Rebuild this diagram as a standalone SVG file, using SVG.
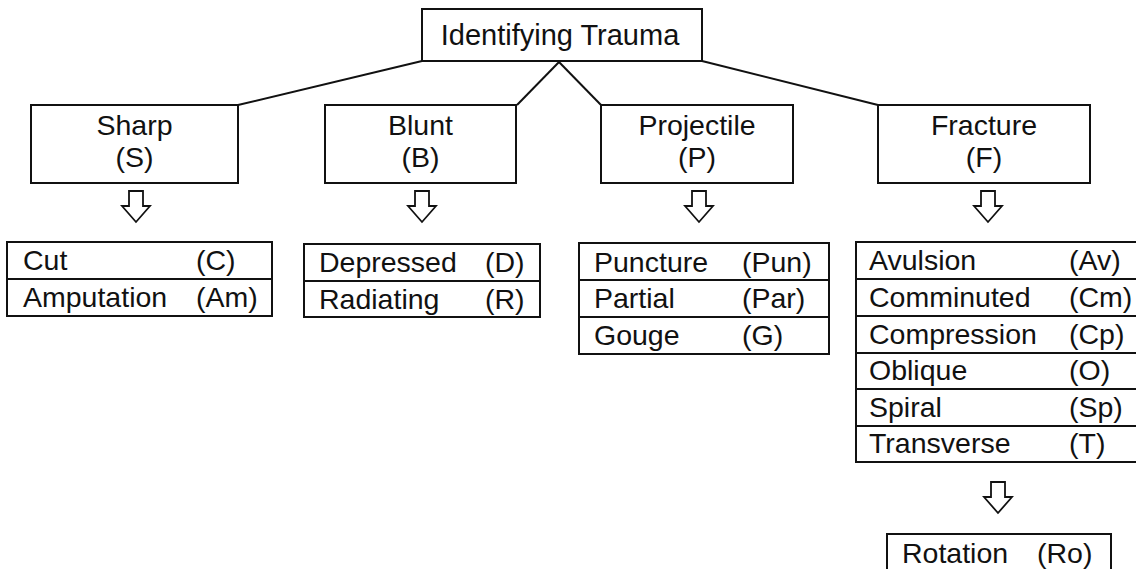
<svg xmlns="http://www.w3.org/2000/svg" width="1136" height="569" viewBox="0 0 1136 569">
<style>
.box{fill:#fff;stroke:#111;stroke-width:2}
.ln{fill:none;stroke:#111;stroke-width:2}
.arr{fill:#fff;stroke:#111;stroke-width:1.8;stroke-linejoin:miter}
text{font-family:"Liberation Sans",Arial,sans-serif;font-size:28.5px;fill:#111}
.c{text-anchor:middle}
.t{font-size:29px}
</style>
<rect width="1136" height="569" fill="#fff"/>
<g id="connectors">
<path class="ln" d="M422,61 L238,105"/>
<path class="ln" d="M559,62 L517,105"/>
<path class="ln" d="M559,62 L601,105"/>
<path class="ln" d="M702,61 L878,105"/>
<path class="arr" d="M129,191 H143 V206 H150 L136,222 L122,206 H129 Z"/>
<path class="arr" d="M415,191 H429 V206 H436 L422,222 L408,206 H415 Z"/>
<path class="arr" d="M692,191 H706 V206 H713 L699,222 L685,206 H692 Z"/>
<path class="arr" d="M981,191 H995 V206 H1002 L988,222 L974,206 H981 Z"/>
<path class="arr" d="M991,482 H1005 V497 H1012 L998,513 L984,497 H991 Z"/>
</g>
<g id="root">
<rect class="box" x="422" y="9" width="280" height="52"/>
<text class="c t" x="560" y="45">Identifying Trauma</text>
</g>
<g id="sharp">
<rect class="box" x="31" y="105" width="207" height="78"/>
<text class="c" x="134.5" y="135">Sharp</text>
<text class="c" x="134.5" y="167">(S)</text>
</g>
<g id="blunt">
<rect class="box" x="325" y="105" width="191" height="78"/>
<text class="c" x="420.5" y="135">Blunt</text>
<text class="c" x="420.5" y="167">(B)</text>
</g>
<g id="projectile">
<rect class="box" x="601" y="105" width="192" height="78"/>
<text class="c" x="697" y="135">Projectile</text>
<text class="c" x="697" y="167">(P)</text>
</g>
<g id="fracture">
<rect class="box" x="878" y="105" width="212" height="78"/>
<text class="c" x="984" y="135">Fracture</text>
<text class="c" x="984" y="167">(F)</text>
</g>
<g id="sharp-list">
<rect class="box" x="7" y="242" width="265" height="74"/>
<path class="ln" d="M7,279 H272"/>
<text x="23" y="270">Cut</text><text x="196" y="270">(C)</text>
<text x="23" y="307">Amputation</text><text x="196" y="307">(Am)</text>
</g>
<g id="blunt-list">
<rect class="box" x="304" y="244" width="236" height="73"/>
<path class="ln" d="M304,281 H540"/>
<text x="319" y="272">Depressed</text><text x="485" y="272">(D)</text>
<text x="319" y="309">Radiating</text><text x="485" y="309">(R)</text>
</g>
<g id="projectile-list">
<rect class="box" x="579" y="243" width="250" height="111"/>
<path class="ln" d="M579,280 H829 M579,317 H829"/>
<text x="594" y="272">Puncture</text><text x="742" y="272">(Pun)</text>
<text x="594" y="308">Partial</text><text x="742" y="308">(Par)</text>
<text x="594" y="345">Gouge</text><text x="742" y="345">(G)</text>
</g>
<g id="fracture-list">
<rect class="box" x="856" y="242" width="300" height="220"/>
<path class="ln" d="M856,279 H1140 M856,316 H1140 M856,353 H1140 M856,389 H1140 M856,426 H1140"/>
<text x="869" y="270">Avulsion</text><text x="1069" y="270">(Av)</text>
<text x="869" y="307">Comminuted</text><text x="1069" y="307">(Cm)</text>
<text x="869" y="344">Compression</text><text x="1069" y="344">(Cp)</text>
<text x="869" y="380">Oblique</text><text x="1069" y="380">(O)</text>
<text x="869" y="417">Spiral</text><text x="1069" y="417">(Sp)</text>
<text x="869" y="453">Transverse</text><text x="1069" y="453">(T)</text>
</g>
<g id="rotation">
<rect class="box" x="887" y="534" width="224" height="40"/>
<text x="902" y="563">Rotation</text><text x="1037" y="563">(Ro)</text>
</g>
</svg>
